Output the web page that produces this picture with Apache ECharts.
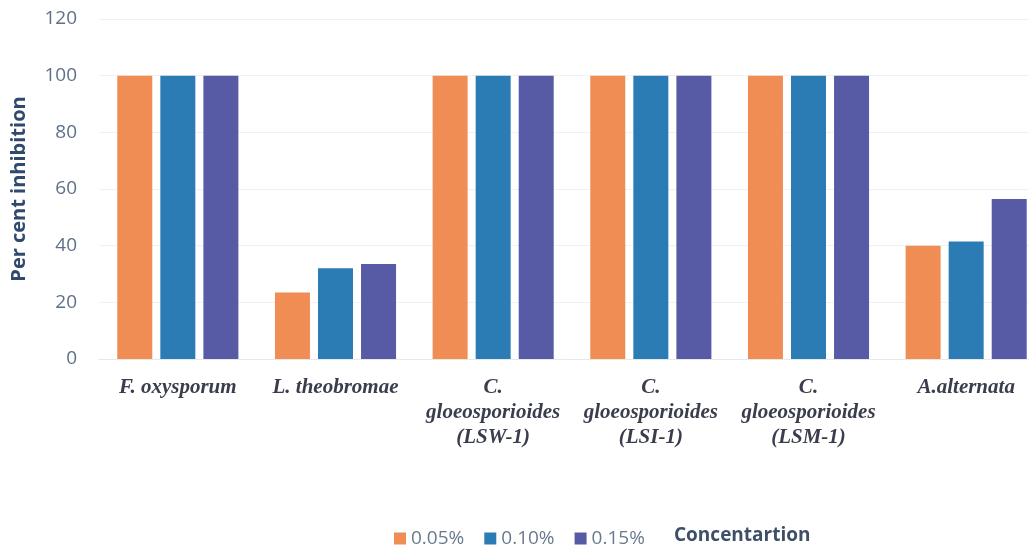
<!DOCTYPE html>
<html>
<head>
<meta charset="utf-8">
<script src="https://cdn.jsdelivr.net/npm/echarts@6/dist/echarts.min.js"></script>
<style>
html, body { margin: 0; padding: 0; background: #fff; }
#chart { width: 1029px; height: 548px; }
</style>
</head>
<body>
<div id="chart"></div>
<script>
const categories = [
    'F. oxysporum',
    'L. theobromae',
    'C.\ngloeosporioides\n(LSW-1)',
    'C.\ngloeosporioides\n(LSI-1)',
    'C.\ngloeosporioides\n(LSM-1)',
    'A.alternata'
]
const seriesNames = ['0.05%', '0.10%', '0.15%']
const conc005 = [100, 23.5, 100, 100, 100, 40]
const conc010 = [100, 32, 100, 100, 100, 41.5]
const conc015 = [100, 33.5, 100, 100, 100, 56.5]
const yTicks = { min: 0, max: 120, interval: 20 }

const colors = ['#EF8D55', '#2B7CB4', '#575AA4']

const myChart = echarts.init(document.getElementById('chart'))
const makeBar = (name, data, i) => ({
    name: name,
    type: 'bar',
    data: data,
    barWidth: 35,
    barGap: '23%',
    itemStyle: { color: colors[i] }
})
const option = {
    animation: false,
    grid: { left: 99, right: -16, top: 19, bottom: 189, outerBoundsMode: 'none' },
    legend: {
        left: 389,
        top: 524,
        itemWidth: 12,
        itemHeight: 12,
        itemGap: 20,
        icon: 'rect',
        textStyle: { fontFamily: 'Open Sans', fontSize: 19, color: '#6a7a8e' },
        data: seriesNames
    },
    graphic: [{
        type: 'text',
        left: 674,
        top: 526,
        style: {
            text: 'Concentartion',
            fontFamily: 'Open Sans',
            fontWeight: 'bold',
            fontSize: 19,
            fill: '#3d5068'
        }
    }],
    xAxis: {
        type: 'category',
        data: categories,
        axisTick: { show: false },
        axisLine: { show: true, lineStyle: { color: '#e8e8e8' } },
        axisLabel: {
            interval: 0,
            margin: 16,
            fontFamily: 'Liberation Serif',
            fontStyle: 'italic',
            fontWeight: 'bold',
            fontSize: 21,
            lineHeight: 25,
            color: '#3a3d4c'
        }
    },
    yAxis: {
        type: 'value',
        min: yTicks.min,
        max: yTicks.max,
        interval: yTicks.interval,
        name: 'Per cent inhibition',
        nameLocation: 'middle',
        nameGap: 70,
        nameTextStyle: {
            fontFamily: 'Open Sans',
            fontWeight: 'bold',
            fontSize: 20,
            color: '#2f4a6c'
        },
        axisLine: { show: false },
        axisTick: { show: false },
        axisLabel: {
            margin: 22,
            fontFamily: 'Open Sans',
            fontSize: 19,
            color: '#5e7189'
        },
        splitLine: { show: true, lineStyle: { color: '#f1f1f1' } }
    },
    series: [
        makeBar(seriesNames[0], conc005, 0),
        makeBar(seriesNames[1], conc010, 1),
        makeBar(seriesNames[2], conc015, 2)
    ]
}
myChart.setOption(option)
</script>
</body>
</html>
